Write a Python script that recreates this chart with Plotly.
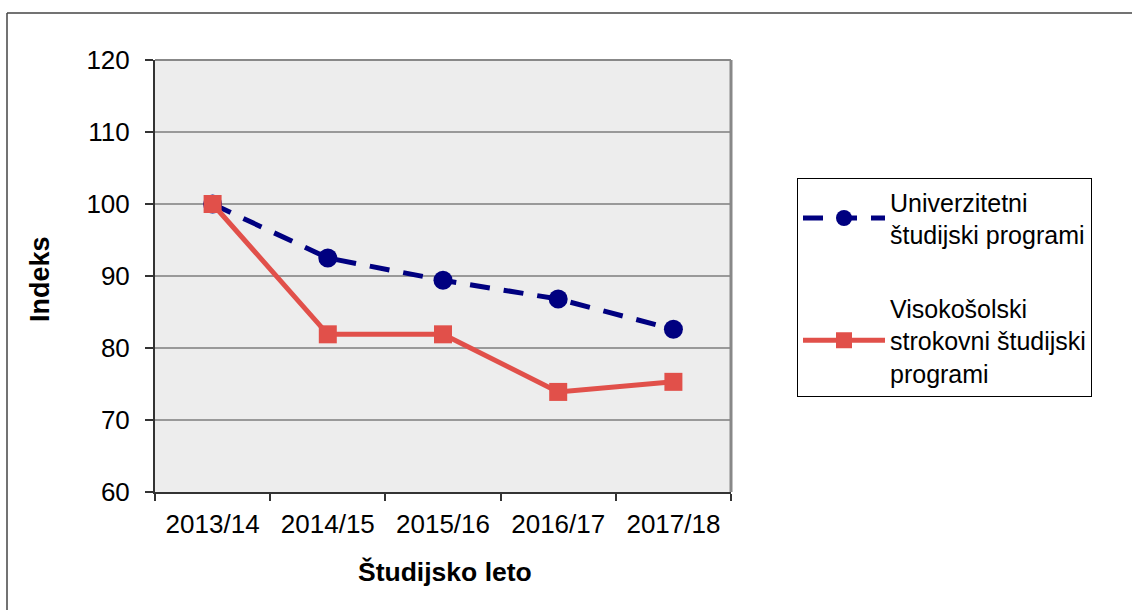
import plotly.graph_objects as go

categories = ["2013/14", "2014/15", "2015/16", "2016/17", "2017/18"]
univerzitetni = [100.0, 92.5, 89.4, 86.8, 82.6]
visokosolski = [100.0, 81.9, 81.9, 73.9, 75.3]
series_names = ["Univerzitetni<br>študijski programi",
                "Visokošolski<br>strokovni študijski<br>programi"]
y_ticks = [60, 70, 80, 90, 100, 110, 120]

FONT = "Liberation Sans, Arial, sans-serif"
W, H = 1132, 610
# plot area in page pixels: x 155..731, y 60..492
L, T = 155, 60
R = W - 731
B = H - 492
pw, ph = W - L - R, H - T - B

def px(x):
    return (x - L) / pw

def py(y):
    return (H - B - y) / ph

fig = go.Figure()
fig.add_trace(go.Scatter(
    x=categories, y=univerzitetni, name=series_names[0], legendgroup="a",
    mode="lines+markers",
    line=dict(color="#000080", width=5, dash="20px,14px"),
    marker=dict(symbol="circle", size=19, color="#000080"),
))
fig.add_trace(go.Scatter(
    x=categories, y=visokosolski, name=series_names[1], legendgroup="b",
    mode="lines+markers",
    line=dict(color="#E1504A", width=5),
    marker=dict(symbol="square", size=18, color="#E1504A"),
))

fig.update_layout(
    width=W, height=H,
    margin=dict(l=L, r=R, t=T, b=B),
    paper_bgcolor="white",
    plot_bgcolor="#EDEDED",
    font=dict(family=FONT, size=26, color="black"),
    showlegend=True,
    legend=dict(
        x=px(797), y=py(178), xanchor="left", yanchor="top",
        bordercolor="black", borderwidth=1, bgcolor="white",
        font=dict(size=25), tracegroupgap=38, itemwidth=82,
        traceorder="grouped",
    ),
    xaxis=dict(
        type="category", range=[-0.5, 4.5],
        tickson="boundaries", ticks="outside", ticklen=7, tickwidth=1.5,
        tickcolor="#333", showline=True, linecolor="#333", linewidth=2,
        showgrid=False, zeroline=False, tickfont=dict(size=26),
        ticklabelstandoff=8,
    ),
    yaxis=dict(
        range=[60, 120], tickvals=y_ticks, ticks="outside", ticklen=8,
        tickwidth=1.5, tickcolor="#333", showline=True, linecolor="#333",
        linewidth=2, showgrid=True, gridcolor="#999999", gridwidth=1.5,
        zeroline=False, tickfont=dict(size=26), ticklabelstandoff=10,
    ),
    annotations=[
        dict(text="<b>Indeks</b>", xref="paper", yref="paper",
             x=px(40), y=py(279), textangle=-90, showarrow=False,
             font=dict(size=27), xanchor="center", yanchor="middle"),
        dict(text="<b>Študijsko leto</b>", xref="paper", yref="paper",
             x=px(445), y=py(572), showarrow=False,
             font=dict(size=26.5), xanchor="center", yanchor="middle"),
    ],
    shapes=[
        dict(type="line", xref="paper", yref="paper", x0=1, x1=1, y0=0, y1=1,
             line=dict(color="#888", width=3)),
        dict(type="line", xref="paper", yref="paper", x0=0, x1=1, y0=1, y1=1,
             line=dict(color="#888", width=2)),
        dict(type="line", xref="paper", yref="paper", x0=px(7), x1=px(1140),
             y0=py(13), y1=py(13), line=dict(color="#444", width=1.5)),
        dict(type="line", xref="paper", yref="paper", x0=px(7), x1=px(7),
             y0=py(13), y1=py(620), line=dict(color="#444", width=1.5)),
    ],
)

fig.write_html("out.html",
               config={"displayModeBar": False},
               post_script="document.body.style.margin='0';")
